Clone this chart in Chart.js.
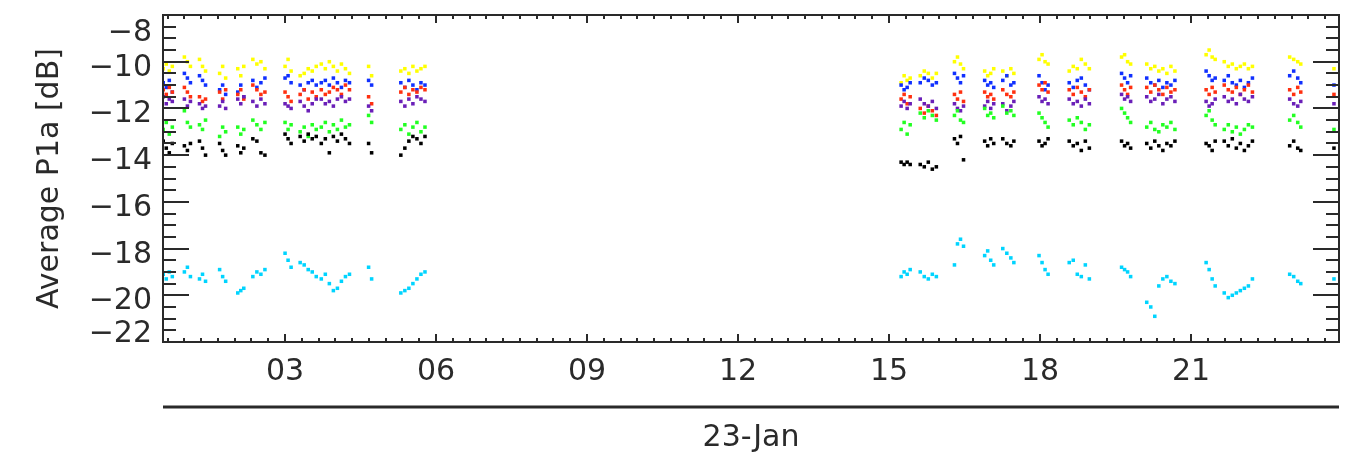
<!DOCTYPE html>
<html>
<head>
<meta charset="utf-8">
<script src="https://cdn.jsdelivr.net/npm/chart.js@4.4.1/dist/chart.umd.min.js"></script>
<style>
  html, body { margin: 0; padding: 0; background: #fff; }
</style>
</head>
<body>
<canvas id="chart" width="1351" height="473"></canvas>
<script>
// sample times (hours of 23-Jan), shared by all beams
const hours = [
  0.58, 0.64, 0.70, 0.76, 1.00, 1.06, 1.12, 1.30, 1.36, 1.42, 1.70, 1.76, 1.82,
  2.06, 2.12, 2.18, 2.36, 2.44, 2.52, 2.60, 3.00, 3.06, 3.12,
  3.30, 3.38, 3.46, 3.54, 3.62, 3.72, 3.80, 3.88, 3.96, 4.04, 4.12, 4.20, 4.28,
  4.66, 4.72, 5.30, 5.38, 5.46, 5.54, 5.62, 5.70, 5.78,
  15.24, 15.30, 15.36, 15.42, 15.62, 15.70, 15.78, 15.86, 15.94,
  16.30, 16.36, 16.42, 16.48, 16.90, 16.96, 17.02, 17.08, 17.26, 17.34, 17.42, 17.48,
  17.98, 18.04, 18.10, 18.16, 18.58, 18.66, 18.74, 18.82, 18.90, 18.98,
  19.62, 19.68, 19.74, 19.80, 20.12, 20.20, 20.28, 20.36, 20.44, 20.52, 20.60, 20.68,
  21.30, 21.36, 21.42, 21.48, 21.66, 21.74, 21.82, 21.90, 21.98, 22.06, 22.14, 22.22,
  22.96, 23.04, 23.12, 23.18, 23.84
];

const yellowVals = [
  -10.3,-10.1,-10.4,-10.2, -9.8,-10.0,-10.2, -9.9,-10.2,-10.4, -10.5,-10.2,-10.7,
  -10.3,-10.6,-10.2, -9.9,-10.1,-10.0,-10.3, -10.2,-9.9,-10.4,
  -10.6,-10.5,-10.3,-10.4,-10.2, -10.1,-10.3,-10.0,-10.2,-10.4,-10.1,-10.3,-10.5,
  -10.2,-10.6, -10.4,-10.3,-10.5,-10.2,-10.4,-10.3,-10.2,
  -10.9,-10.6,-10.8,-10.7, -10.6,-10.4,-10.5,-10.7,-10.5,
  -10.0,-9.8,-10.1,-10.3, -10.4,-10.6,-10.5,-10.3, -10.4,-10.6,-10.3,-10.5,
  -9.9,-9.7,-10.0,-10.1, -10.4,-10.2,-10.3,-9.9,-10.1,-10.3,
  -9.8,-9.7,-10.0,-10.1, -10.1,-10.3,-10.2,-10.4,-10.3,-10.5,-10.2,-10.4,
  -9.7,-9.5,-9.8,-9.9, -10.0,-10.2,-10.1,-10.3,-10.2,-10.1,-10.3,-10.2,
  -9.8,-9.9,-10.0,-10.1, -10.3
];

const blueVals = [
  -10.9,-11.1,-10.8,-11.3, -10.5,-10.7,-10.9, -10.6,-10.8,-11.0, -11.2,-11.0,-11.4,
  -11.3,-11.0,-11.5, -10.8,-11.1,-10.9,-10.7, -10.7,-10.6,-10.9,
  -11.0,-11.2,-10.9,-10.8,-11.0, -10.9,-10.8,-11.0,-10.7,-10.9,-11.1,-10.8,-10.9,
  -10.8,-11.0, -10.9,-11.1,-10.8,-11.0,-11.2,-10.9,-11.0,
  -11.0,-11.2,-11.1,-10.9, -10.9,-10.7,-10.8,-11.0,-10.9,
  -10.5,-10.7,-10.9,-10.6, -10.8,-11.0,-10.9,-11.1, -10.8,-10.6,-11.0,-10.9,
  -10.6,-10.9,-11.2,-11.0, -10.9,-11.1,-10.8,-10.7,-11.0,-11.2,
  -10.5,-10.7,-10.9,-10.6, -10.7,-10.9,-11.0,-10.8,-11.1,-10.9,-11.0,-10.8,
  -10.4,-10.6,-10.8,-10.7, -10.8,-10.6,-10.9,-11.0,-10.8,-11.1,-10.9,-10.7,
  -10.6,-10.4,-10.7,-10.9, -11.0
];

const redVals = [
  -11.2,-11.4,-11.1,-11.3, -11.1,-11.3,-11.5, -11.5,-11.7,-11.6, -11.3,-11.6,-11.2,
  -11.4,-11.2,-11.6, -11.0,-11.2,-11.4,-11.3, -11.3,-11.5,-11.7,
  -11.4,-11.2,-11.6,-11.3,-11.5, -11.2,-11.4,-11.3,-11.1,-11.2,-11.4,-11.0,-11.2,
  -11.5,-11.8, -11.3,-11.1,-11.4,-11.2,-11.3,-11.1,-11.2,
  -11.6,-11.4,-11.8,-11.5, -12.0,-12.2,-11.9,-12.1,-12.3,
  -11.4,-11.6,-11.3,-11.7, -11.3,-11.5,-11.4,-11.6, -11.2,-11.4,-11.5,-11.3,
  -11.0,-11.2,-10.9,-11.3, -11.2,-11.4,-11.1,-11.3,-11.5,-11.2,
  -11.0,-11.2,-11.4,-11.1, -11.1,-11.3,-11.0,-11.2,-11.4,-11.1,-11.3,-11.2,
  -11.2,-11.4,-11.1,-11.3, -11.0,-11.2,-11.3,-11.1,-11.4,-11.2,-11.0,-11.3,
  -11.2,-11.4,-11.1,-11.3, -11.4
];

const purpleVals = [
  -11.5,-11.8,-11.6,-11.7, -11.6,-11.9,-11.7, -11.8,-12.0,-11.9, -11.9,-11.7,-12.0,
  -11.6,-11.8,-11.5, -11.7,-11.9,-11.6,-11.8, -11.8,-11.9,-12.0,
  -11.7,-11.9,-12.1,-11.8,-11.6, -11.6,-11.8,-11.7,-11.9,-11.6,-11.5,-11.7,-11.6,
  -11.9,-12.1, -11.7,-11.9,-11.6,-11.8,-11.5,-11.6,-11.7,
  -11.9,-11.7,-12.0,-11.8, -11.6,-11.8,-11.9,-11.7,-12.0,
  -11.8,-12.0,-12.1,-11.9, -11.9,-11.7,-12.0,-11.8, -11.8,-12.1,-11.9,-11.7,
  -11.5,-11.7,-11.6,-11.8, -11.6,-11.8,-11.7,-11.9,-11.6,-11.8,
  -11.4,-11.6,-11.5,-11.7, -11.5,-11.7,-11.6,-11.4,-11.8,-11.6,-11.5,-11.7,
  -11.7,-11.9,-11.8,-11.6, -11.5,-11.7,-11.6,-11.8,-11.4,-11.6,-11.7,-11.5,
  -11.6,-11.8,-11.9,-11.7, -11.8
];

const greenVals = [
  -12.9,-12.6,-13.1,-12.8, -12.1,-12.6,-12.8, -12.7,-12.9,-12.5, -13.2,-12.8,-13.0,
  -12.8,-13.1,-12.9, -12.5,-12.7,-12.9,-12.6, -12.6,-12.9,-12.7,
  -13.0,-12.8,-13.2,-12.7,-12.9, -12.8,-12.6,-13.0,-12.7,-12.9,-12.5,-12.8,-12.7,
  -12.3,-12.6, -12.9,-12.7,-13.1,-12.8,-12.6,-13.0,-12.8,
  -12.9,-12.6,-13.1,-12.7, -12.2,-12.4,-12.1,-12.3,-12.5,
  -12.3,-12.1,-12.5,-12.6, -12.0,-12.3,-12.2,-12.4, -11.9,-12.2,-12.1,-12.3,
  -12.2,-12.4,-12.6,-12.8, -12.5,-12.7,-12.4,-12.6,-12.9,-12.7,
  -12.0,-12.2,-12.4,-12.6, -12.8,-12.6,-12.9,-13.0,-12.7,-12.8,-12.6,-12.9,
  -12.3,-12.1,-12.5,-12.7, -12.9,-12.7,-13.0,-12.8,-13.1,-12.9,-12.7,-12.8,
  -12.5,-12.3,-12.6,-12.8, -12.9
];

const blackVals = [
  -13.4,-13.7,-13.9,-13.5, -13.6,-13.8,-13.5, -13.4,-13.7,-14.0, -13.5,-13.8,-14.0,
  -13.6,-13.9,-13.7, -13.3,-13.4,-13.9,-14.0, -13.1,-13.3,-13.5,
  -13.2,-13.4,-13.1,-13.3,-13.2, -13.5,-13.3,-13.9,-13.2,-13.4,-13.1,-13.3,-13.5,
  -13.5,-13.9, -14.0,-13.7,-13.4,-13.2,-13.3,-13.5,-13.2,
  -14.3,-14.4,-14.3,-14.4, -14.4,-14.5,-14.3,-14.6,-14.5,
  -13.3,-13.5,-13.2,-14.2, -13.4,-13.6,-13.3,-13.5, -13.3,-13.5,-13.6,-13.4,
  -13.4,-13.6,-13.5,-13.3, -13.4,-13.6,-13.5,-13.8,-13.4,-13.7,
  -13.4,-13.6,-13.5,-13.7, -13.5,-13.7,-13.4,-13.6,-13.8,-13.5,-13.6,-13.4,
  -13.5,-13.6,-13.8,-13.4, -13.4,-13.6,-13.3,-13.7,-13.5,-13.8,-13.6,-13.4,
  -13.6,-13.4,-13.7,-13.8, -13.7
];

const cyanVals = [
  -19.1,-19.3,-19.0,-19.2, -19.0,-18.8,-19.2, -19.3,-19.1,-19.4, -18.9,-19.2,-19.4,
  -19.9,-19.8,-19.7, -19.2,-19.0,-19.1,-18.9, -18.2,-18.5,-18.8,
  -18.6,-18.7,-18.9,-19.0,-19.2, -19.3,-19.1,-19.5,-19.8,-19.7,-19.4,-19.2,-19.1,
  -18.8,-19.3, -19.9,-19.8,-19.7,-19.5,-19.3,-19.1,-19.0,
  -19.2,-19.0,-19.1,-18.9, -19.0,-19.2,-19.3,-19.1,-19.2,
  -18.7,-17.8,-17.6,-17.9, -18.3,-18.1,-18.5,-18.7, -18.0,-18.2,-18.4,-18.6,
  -18.3,-18.6,-18.9,-19.1, -18.6,-18.5,-19.1,-19.2,-18.7,-19.3,
  -18.8,-18.9,-19.0,-19.2, -20.3,-20.5,-20.9,-19.6,-19.3,-19.2,-19.4,-19.5,
  -18.6,-18.9,-19.3,-19.6, -19.9,-20.1,-20.0,-19.9,-19.8,-19.7,-19.6,-19.3,
  -19.1,-19.2,-19.4,-19.5, -19.3
];

const seriesNames = ['cyan', 'black', 'green', 'purple', 'red', 'blue', 'yellow'];
const seriesValues = [cyanVals, blackVals, greenVals, purpleVals, redVals, blueVals, yellowVals];
const seriesColors = ['#00d4ff', '#000000', '#22ff22', '#6a1fb8', '#ff3010', '#1030ff', '#ffff00'];

const xTickValues = [3, 6, 9, 12, 15, 18, 21];
const xTickLabels = ['03', '06', '09', '12', '15', '18', '21'];
const yTickValues = [-8, -10, -12, -14, -16, -18, -20, -22];
const yTickLabels = ['−8', '−10', '−12', '−14', '−16', '−18', '−20', '−22'];
const xTitle = '23-Jan';
const yTitle = 'Average P1a [dB]';

const FONT = 'DejaVu Sans';
const INK = '#2a2a2a';

// IDL-style frame: inward ticks on all four sides, y labels, rule under the hours
const frameTicks = {
  id: 'frameTicks',
  afterDraw(chart) {
    const { ctx, chartArea: a, scales: { x, y } } = chart;
    ctx.save();
    ctx.strokeStyle = INK;
    ctx.lineWidth = 2;
    ctx.strokeRect(a.left, a.top, a.right - a.left, a.bottom - a.top);

    ctx.beginPath();
    for (let m = 0; m <= 72; m++) {           // every 20 minutes
      const h = m / 3;
      if (h < x.min || h > x.max) continue;
      const px = Math.round(x.getPixelForValue(h));
      const len = m % 9 === 0 ? 8 : 4;
      ctx.moveTo(px, a.bottom); ctx.lineTo(px, a.bottom - len);
      ctx.moveTo(px, a.top); ctx.lineTo(px, a.top + len);
    }
    for (let k = 0; k <= 28; k++) {           // every 0.5 dB
      const v = -22 + k * 0.5;
      const py = Math.round(y.getPixelForValue(v));
      const len = k % 4 === 0 ? 26 : 13;
      ctx.moveTo(a.left, py); ctx.lineTo(a.left + len, py);
      ctx.moveTo(a.right, py); ctx.lineTo(a.right - len, py);
    }
    ctx.stroke();

    ctx.font = '30px "' + FONT + '"';
    ctx.fillStyle = INK;
    ctx.textAlign = 'right';
    ctx.textBaseline = 'alphabetic';
    yTickValues.forEach((v, i) => {
      let cy = y.getPixelForValue(v) + 3;
      cy = Math.min(Math.max(cy, a.top + 15), a.bottom - 11);
      ctx.fillText(yTickLabels[i], a.left - 11, cy + 11);
    });

    ctx.lineWidth = 3;
    ctx.beginPath();
    ctx.moveTo(a.left, a.bottom + 65);
    ctx.lineTo(a.right, a.bottom + 65);
    ctx.stroke();
    ctx.restore();
  }
};

new Chart(document.getElementById('chart'), {
  type: 'scatter',
  data: {
    datasets: seriesValues.map((vals, i) => ({
      label: seriesNames[i],
      data: hours.map((h, j) => ({ x: h, y: vals[j] })),
      backgroundColor: seriesColors[i],
      borderWidth: 0,
      pointStyle: 'rect',
      pointRadius: 2.5,
      pointHoverRadius: 2.5
    }))
  },
  options: {
    responsive: false,
    animation: false,
    devicePixelRatio: 1,
    layout: { padding: { top: 15, right: 12, left: 0, bottom: 0 } },
    plugins: { legend: { display: false }, tooltip: { enabled: false } },
    scales: {
      x: {
        type: 'linear',
        min: 0.575,
        max: 23.94,
        afterFit: s => { s.height = 131; },
        afterBuildTicks: s => { s.ticks = xTickValues.map(v => ({ value: v })); },
        ticks: {
          autoSkip: false,
          maxRotation: 0,
          padding: 12,
          color: INK,
          font: { family: FONT, size: 30 },
          callback: v => xTickLabels[xTickValues.indexOf(v)]
        },
        grid: { display: false, drawTicks: false },
        border: { display: false },
        title: {
          display: true,
          text: xTitle,
          color: INK,
          font: { family: FONT, size: 30 },
          padding: { top: 0, bottom: 17 }
        }
      },
      y: {
        min: -22,
        max: -8,
        afterFit: s => { s.width = 163; },
        ticks: { display: false },
        grid: { display: false, drawTicks: false },
        border: { display: false },
        title: {
          display: true,
          text: yTitle,
          color: INK,
          font: { family: FONT, size: 30 },
          padding: { top: 32, bottom: 0 }
        }
      }
    }
  },
  plugins: [frameTicks]
});
</script>
</body>
</html>
